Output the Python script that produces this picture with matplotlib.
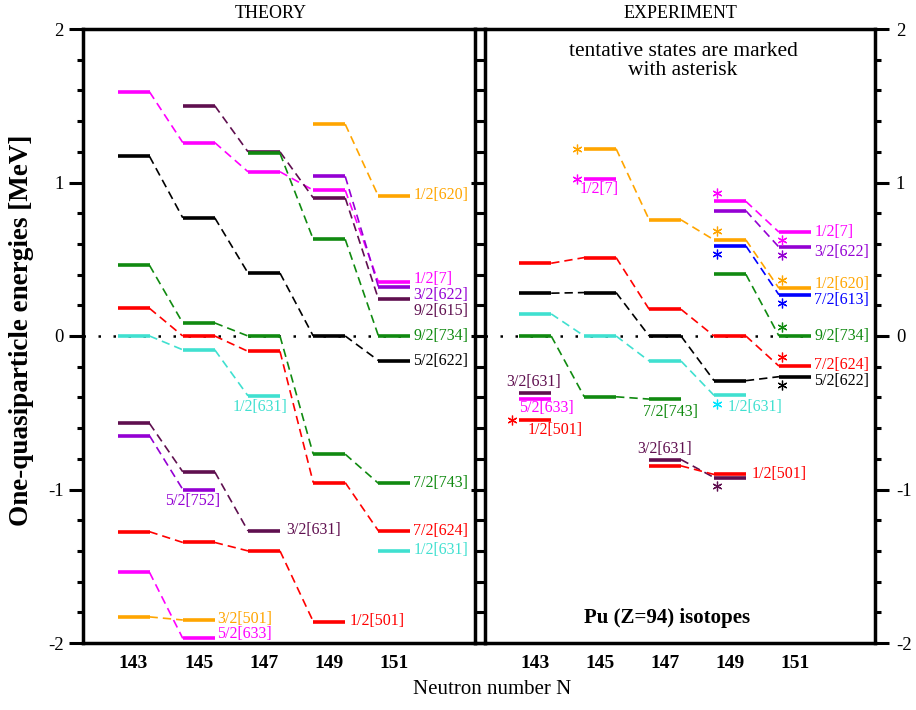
import numpy as np
import matplotlib
matplotlib.use("Agg")
import matplotlib.pyplot as plt
from matplotlib.lines import Line2D
from matplotlib.ticker import MultipleLocator

plt.rcParams['font.family'] = ['Liberation Serif', 'DejaVu Serif']
plt.rcParams['axes.unicode_minus'] = False

nan = np.nan

# neutron numbers of the Pu isotopes
N = [143, 145, 147, 149, 151]

# theory: one-quasiparticle energies (MeV), nan = level not shown
th_620 = [nan, nan, nan, 1.38, 0.91]
th_7 = [1.59, 1.26, 1.07, 0.95, 0.35]
th_615 = [nan, 1.50, 1.20, 0.90, 0.24]
th_622a = [nan, nan, nan, 1.04, 0.32]      # 3/2[622]
th_734 = [nan, nan, 1.19, 0.63, 0.00]
th_622b = [1.17, 0.77, 0.41, 0.00, -0.16]  # 5/2[622]
th_743 = [0.46, 0.085, 0.00, -0.77, -0.96]
th_624 = [0.18, 0.00, -0.10, -0.955, -1.27]
th_631a = [0.00, -0.09, -0.39, nan, -1.40]  # 1/2[631]
th_631b = [-0.57, -0.885, -1.27, nan, nan]  # 3/2[631]
th_752 = [-0.65, -1.00, nan, nan, nan]
th_501a = [-1.275, -1.345, -1.40, -1.86, nan]  # 1/2[501]
th_633 = [-1.54, -1.97, nan, nan, nan]
th_501b = [-1.83, -1.85, nan, nan, nan]  # 3/2[501]

# experiment
ex_620 = [nan, 1.22, 0.757, 0.626, 0.311]
ex_7 = [nan, 1.024, nan, 0.877, 0.677]
ex_622a = [nan, nan, nan, 0.816, 0.579]
ex_613 = [nan, nan, nan, 0.587, 0.268]
ex_734 = [nan, nan, nan, 0.402, 0.00]
ex_624 = [0.474, 0.511, 0.174, 0.00, -0.196]
ex_622b = [0.279, 0.283, 0.00, -0.291, -0.265]
ex_631a = [0.144, 0.00, -0.163, -0.387, nan]
ex_743 = [0.00, -0.396, -0.411, nan, nan]
ex_631b = [-0.37, nan, -0.805, -0.922, nan]
ex_633 = [-0.411, nan, nan, nan, nan]
ex_501a = [-0.546, nan, -0.846, -0.902, nan]

ORANGE = "#ffa500"
MAGENTA = "#ff00ff"
MAROON = "#5f0f4f"
PURPLE = "#9400d3"
GREEN = "#108a10"
RED = "#ff0000"
TURQ = "#40e0d0"
BLUE = "#0000ff"
BLACK = "#000000"

theory = [(th_620, ORANGE), (th_7, MAGENTA), (th_615, MAROON), (th_622a, PURPLE),
          (th_734, GREEN), (th_622b, BLACK), (th_743, GREEN), (th_624, RED),
          (th_631a, TURQ), (th_631b, MAROON), (th_752, PURPLE), (th_501a, RED),
          (th_633, MAGENTA), (th_501b, ORANGE)]
experiment = [(ex_620, ORANGE), (ex_7, MAGENTA), (ex_622a, PURPLE), (ex_613, BLUE),
              (ex_734, GREEN), (ex_624, RED), (ex_622b, BLACK), (ex_631a, TURQ),
              (ex_743, GREEN), (ex_631b, MAROON), (ex_633, MAGENTA), (ex_501a, RED)]

# text labels: text, colour, x (N), y (MeV), alignment
th_labels = [
    ("1/2[620]", ORANGE, 151.58, 0.92, "left"),
    ("1/2[7]", MAGENTA, 151.58, 0.37, "left"),
    ("3/2[622]", PURPLE, 151.58, 0.267, "left"),
    ("9/2[615]", MAROON, 151.58, 0.165, "left"),
    ("9/2[734]", GREEN, 151.58, 0.0, "left"),
    ("5/2[622]", BLACK, 151.58, -0.16, "left"),
    ("1/2[631]", TURQ, 146.88, -0.462, "center"),
    ("7/2[743]", GREEN, 151.58, -0.96, "left"),
    ("7/2[624]", RED, 151.58, -1.268, "left"),
    ("1/2[631]", TURQ, 151.58, -1.394, "left"),
    ("5/2[752]", PURPLE, 144.82, -1.075, "center"),
    ("3/2[631]", MAROON, 147.67, -1.264, "left"),
    ("1/2[501]", RED, 149.62, -1.857, "left"),
    ("3/2[501]", ORANGE, 145.56, -1.845, "left"),
    ("5/2[633]", MAGENTA, 145.56, -1.94, "left"),
]
ex_labels = [
    ("1/2[7]", MAGENTA, 151.6, 0.676, "left"),
    ("3/2[622]", PURPLE, 151.6, 0.549, "left"),
    ("1/2[620]", ORANGE, 151.6, 0.339, "left"),
    ("7/2[613]", BLUE, 151.6, 0.235, "left"),
    ("9/2[734]", GREEN, 151.6, 0.0, "left"),
    ("7/2[624]", RED, 151.6, -0.189, "left"),
    ("5/2[622]", BLACK, 151.6, -0.291, "left"),
    ("1/2[7]", MAGENTA, 144.97, 0.96, "center"),
    ("1/2[631]", TURQ, 148.92, -0.465, "left"),
    ("7/2[743]", GREEN, 147.18, -0.493, "center"),
    ("3/2[631]", MAROON, 142.94, -0.302, "center"),
    ("5/2[633]", MAGENTA, 143.34, -0.467, "center"),
    ("1/2[501]", RED, 143.6, -0.612, "center"),
    ("3/2[631]", MAROON, 147.0, -0.736, "center"),
    ("1/2[501]", RED, 149.67, -0.899, "left"),
]

# tentative states (asterisks): level, isotope index, colour, side
tentative = [
    (ex_620, 1, ORANGE, "L"), (ex_7, 1, MAGENTA, "L"),
    (ex_7, 3, MAGENTA, "A"), (ex_620, 3, ORANGE, "A"), (ex_613, 3, BLUE, "B"),
    (ex_7, 4, MAGENTA, "B"), (ex_622a, 4, PURPLE, "B"), (ex_620, 4, ORANGE, "A"),
    (ex_613, 4, BLUE, "B"), (ex_734, 4, GREEN, "A"), (ex_624, 4, RED, "A"),
    (ex_622b, 4, BLACK, "B"), (ex_631a, 3, "#00e5ff", "B"), (ex_501a, 0, RED, "L"),
    (ex_631b, 3, MAROON, "B"),
]
ast_off = {"L": (-0.72, 0.0), "A": (-0.4, 0.056), "B": (-0.4, -0.053)}

HW = 0.49
fig = plt.figure(figsize=(9.16, 7.10), dpi=100)
ax1 = fig.add_axes([83 / 916, 1 - 643 / 710, 392 / 916, 614 / 710])
ax2 = fig.add_axes([485 / 916, 1 - 643 / 710, 390 / 916, 614 / 710])


def draw_levels(ax, levels):
    for vals, col in levels:
        for i, e in enumerate(vals):
            if np.isnan(e):
                continue
            ax.plot([N[i] - HW, N[i] + HW], [e, e], color=col, lw=2.6,
                    solid_capstyle="butt", zorder=3)
            if i + 1 < len(vals) and not np.isnan(vals[i + 1]):
                ax.plot([N[i] + HW, N[i + 1] - HW], [e, vals[i + 1]], color=col,
                        lw=1.2, ls=(0, (5, 3)), zorder=2)


for ax, levels, labels in [(ax1, theory, th_labels), (ax2, experiment, ex_labels)]:
    ax.axhline(0, color="black", lw=1.8, ls=(0, (1, 5)), zorder=1)
    draw_levels(ax, levels)
    for txt, col, x, y, ha in labels:
        t = ax.text(x, y, txt, color=col, fontsize=11.5, ha=ha, va="center", zorder=4)
        if y == 0.0:
            t.set_bbox(dict(facecolor="white", edgecolor="none", pad=0.5))
    ax.set_xlim(141.45, 153.47)
    ax.set_ylim(-2, 2)
    ax.set_xticks(N)
    ax.set_xticklabels([str(n) for n in N], fontweight="bold", fontsize=14)
    ax.tick_params(axis="x", length=0, pad=9)
    ax.yaxis.set_major_locator(MultipleLocator(1))
    ax.yaxis.set_minor_locator(MultipleLocator(0.2))
    ax.tick_params(axis="y", which="major", direction="out", length=10, width=2.2,
                   left=True, right=True, labelsize=13.5)
    ax.tick_params(axis="y", which="minor", direction="out", length=4.5, width=2.2,
                   left=True, right=True)
    for sp in ax.spines.values():
        sp.set_linewidth(2.5)

ax1.tick_params(axis="y", labelleft=True, labelright=False, pad=4)
ax2.tick_params(axis="y", labelleft=False, labelright=True, pad=5)

for vals, i, col, side in tentative:
    dx, dy = ast_off[side]
    ax2.plot(N[i] + dx, vals[i] + dy, marker=(6, 2, 0), ms=7, mew=0.9,
             color=col, ls="none", zorder=5)

ax1.text(0.48, 1.012, "THEORY", transform=ax1.transAxes, ha="center", va="bottom",
         fontsize=13)
ax2.text(0.5, 1.012, "EXPERIMENT", transform=ax2.transAxes, ha="center", va="bottom",
         fontsize=13)
ax2.text(0.508, 0.948, "tentative states are marked\nwith asterisk", transform=ax2.transAxes,
         ha="center", va="center", fontsize=15.5, linespacing=1.0)
ax2.text(0.466, 0.04, "Pu (Z=94) isotopes", transform=ax2.transAxes, ha="center",
         va="center", fontsize=15, fontweight="bold")

fig.text(22 / 916, 0.535, "One-quasiparticle energies [MeV]", rotation=90, ha="center",
         va="center", fontsize=19.5, fontweight="bold")
fig.text(492 / 916, 1 - 690 / 710, "Neutron number N", ha="center", va="center",
         fontsize=15)

# close the gap between the two frames at top and bottom
for yy in (29, 643):
    fig.add_artist(Line2D([475 / 916, 485 / 916], [1 - yy / 710, 1 - yy / 710],
                          color="black", lw=2.5, transform=fig.transFigure))

fig.savefig("out.png", dpi=100)
